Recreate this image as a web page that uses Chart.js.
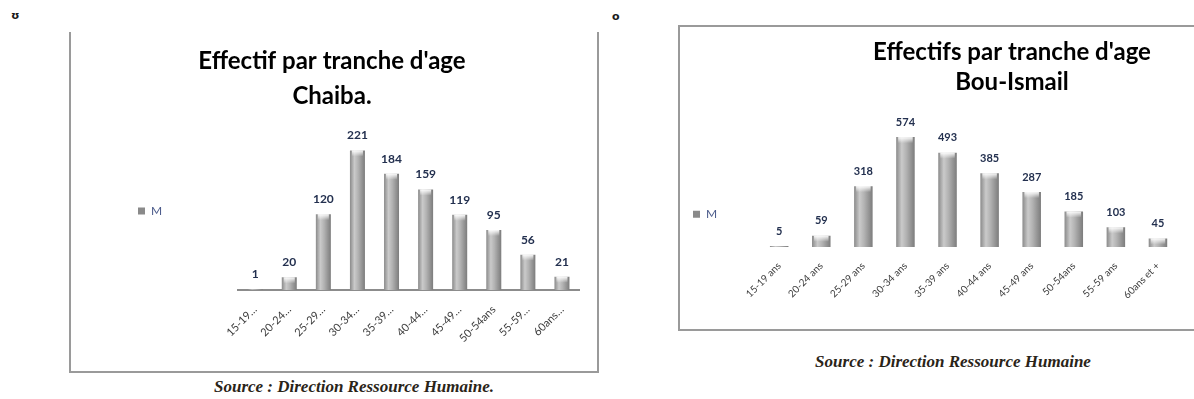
<!DOCTYPE html>
<html lang="fr">
<head>
<meta charset="UTF-8">
<title>Effectifs par tranche d'age</title>
<script src="https://cdn.jsdelivr.net/npm/chart.js"></script>
<style>
  body { margin: 0; width: 1194px; height: 399px; overflow: hidden; background: #fff; position: relative; }
  .mark { position: absolute; font: bold 11px "DejaVu Sans", sans-serif; color: #1a1a1a; }
  .frame { position: absolute; border: 2px solid #9a9a9a; }
  .frame canvas { display: block; }
  #frameChaiba { left: 69px; top: 32px; width: 526px; height: 339px; border-top: none; }
  #frameBou { left: 678px; top: 25px; width: 664px; height: 302px; border-right: none; }
  .source { position: absolute; font: italic bold 17px "Liberation Serif", serif; color: #2a2418; white-space: nowrap; transform: translateX(-50%); }
</style>
</head>
<body>
  <div class="mark" style="left:11px; top:9px;">ʊ</div>
  <div class="mark" style="left:612px; top:10px;">o</div>

  <div class="frame" id="frameChaiba"><canvas id="chartChaiba" width="526" height="339"></canvas></div>
  <div class="frame" id="frameBou"><canvas id="chartBou" width="664" height="302"></canvas></div>

  <div class="source" style="left:354px; top:377px;">Source : Direction Ressource Humaine.</div>
  <div class="source" style="left:953px; top:352px;">Source : Direction Ressource Humaine</div>

<script>
// Tranches d'age et effectifs (serie M)
const seriesName = 'M';
const ageLabelsChaiba = ['15-19…', '20-24…', '25-29…', '30-34…', '35-39…', '40-44…', '45-49…', '50-54ans', '55-59…', '60ans…'];
const effectifsChaiba = [1, 20, 120, 221, 184, 159, 119, 95, 56, 21];
const ageLabelsBou = ['15-19 ans', '20-24 ans', '25-29 ans', '30-34 ans', '35-39 ans', '40-44 ans', '45-49 ans', '50-54ans', '55-59 ans', '60ans et +'];
const effectifsBou = [5, 59, 318, 574, 493, 385, 287, 185, 103, 45];

const CAT_PCT = 0.8;
const BAR_PCT = 0.55;

// horizontal shading so the bars look like grey cylinders
function barGradient(ctx) {
  const chart = ctx.chart;
  const xs = chart.scales.x;
  if (!xs || !chart.chartArea || ctx.type !== 'data') return '#a8a8a8';
  const cx = xs.getPixelForValue(ctx.dataIndex);
  const half = xs.width / chart.data.labels.length * CAT_PCT * BAR_PCT / 2;
  const g = chart.ctx.createLinearGradient(cx - half, 0, cx + half, 0);
  g.addColorStop(0, '#8a8a8a');
  g.addColorStop(0.3, '#cacaca');
  g.addColorStop(0.55, '#b2b2b2');
  g.addColorStop(1, '#7c7c7c');
  return g;
}

// value above each bar + light cap at the top of the bar
const valueLabels = {
  id: 'valueLabels',
  afterDatasetsDraw(chart, args, opts) {
    const ctx = chart.ctx;
    const meta = chart.getDatasetMeta(0);
    const values = chart.data.datasets[0].data;
    ctx.save();
    meta.data.forEach((bar, i) => {
      const {x, y, base, width} = bar.getProps(['x', 'y', 'base', 'width'], true);
      if (base - y > 3) {
        const cap = ctx.createLinearGradient(0, y, 0, y + 6);
        cap.addColorStop(0, 'rgba(255,255,255,0.95)');
        cap.addColorStop(1, 'rgba(255,255,255,0)');
        ctx.fillStyle = cap;
        ctx.fillRect(x - width / 2 + 2, y, width - 4, 6);
      }
      ctx.fillStyle = opts.color;
      ctx.font = opts.font;
      ctx.textAlign = 'center';
      ctx.textBaseline = 'middle';
      ctx.fillText(String(values[i]), x, y - opts.offset);
    });
    ctx.restore();
  }
};

function drawEffectifs(id, labels, values, s) {
  const scales = {
    x: {
      grid: { display: false },
      border: { display: s.axisLine, color: '#8c8c8c', width: 2 },
      ticks: { color: '#3c3c3c', font: { family: 'Lato', size: s.tickSize }, minRotation: 45, maxRotation: 45, autoSkip: false, padding: 5 },
      afterFit: sc => { sc.height = s.xHeight; }
    },
    y: {
      min: 0, max: s.yMax,
      grid: { display: false }, border: { display: false }, ticks: { display: false },
      afterFit: sc => { sc.width = s.yWidth; }
    }
  };
  if (s.rightSpace) {
    scales.yRight = {
      position: 'right',
      grid: { display: false }, border: { display: false }, ticks: { display: false },
      afterFit: sc => { sc.width = s.rightSpace; }
    };
  }
  return new Chart(document.getElementById(id), {
    type: 'bar',
    data: {
      labels: labels,
      datasets: [{
        label: seriesName,
        data: values,
        backgroundColor: barGradient,
        borderWidth: 0,
        categoryPercentage: CAT_PCT,
        barPercentage: BAR_PCT
      }]
    },
    options: {
      responsive: false,
      animation: false,
      layout: { padding: s.padding },
      plugins: {
        title: {
          display: true,
          text: s.title,
          color: '#000',
          font: { family: 'Lato', weight: 'bold', size: s.titleSize, lineHeight: s.titleLine },
          padding: s.titlePad
        },
        legend: {
          position: 'left',
          fullSize: false,
          title: { display: s.legendShift > 0, text: '', font: { size: 2 }, padding: { top: s.legendShift, bottom: 0 } },
          labels: { boxWidth: 7, boxHeight: 7, padding: s.legendPad, color: '#4a5a8a', font: { family: 'Lato', size: 12 } }
        },
        tooltip: { enabled: false },
        valueLabels: { color: '#23304f', font: s.valueFont, offset: 15 }
      },
      scales: scales
    },
    plugins: [valueLabels]
  });
}

drawEffectifs('chartChaiba', ageLabelsChaiba, effectifsChaiba, {
  title: ["Effectif par tranche d'age", 'Chaiba.'],
  titleSize: 24, titleLine: 1.46, titlePad: { top: 12, bottom: 18 },
  padding: { left: 14, right: 18, top: 0, bottom: 0 },
  legendPad: 53, legendShift: 0,
  yMax: 250, yWidth: 66, xHeight: 81, rightSpace: 0,
  axisLine: true, tickSize: 11,
  valueFont: 'bold 12px Lato'
});

drawEffectifs('chartBou', ageLabelsBou, effectifsBou, {
  title: ["Effectifs par tranche d'age", 'Bou-Ismail'],
  titleSize: 24, titleLine: 1.25, titlePad: { top: 10, bottom: 16 },
  padding: { left: 0, right: 0, top: 0, bottom: 0 },
  legendPad: 13, legendShift: 66,
  yMax: 700, yWidth: 31, xHeight: 82, rightSpace: 165,
  axisLine: false, tickSize: 10,
  valueFont: 'bold 11px Lato'
});
</script>
</body>
</html>
